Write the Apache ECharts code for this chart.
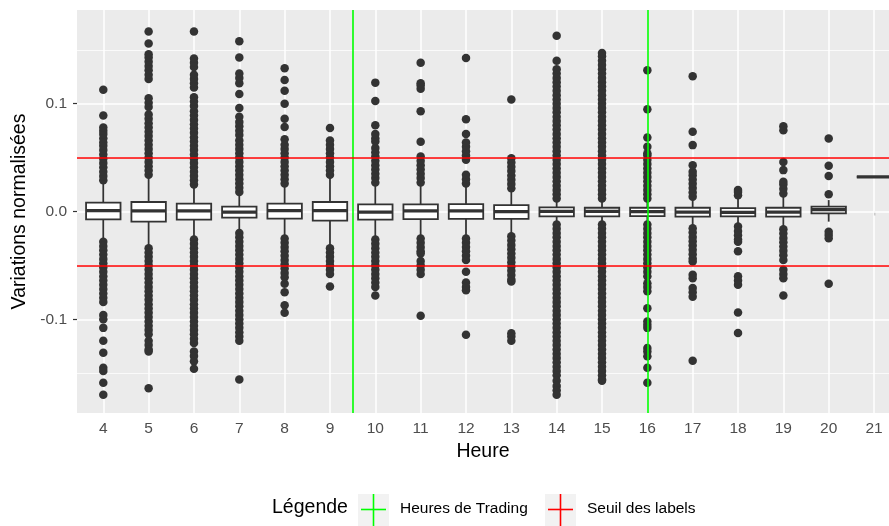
<!DOCTYPE html>
<html>
<head>
<meta charset="utf-8">
<script src="https://cdn.jsdelivr.net/npm/echarts@6/dist/echarts.min.js"></script>
<style>
html,body{margin:0;padding:0;background:#fff;}
#chart{width:889px;height:526px;}
</style>
</head>
<body>
<div id="chart"></div>
<script>
// ---- Data ----
const hours = [4,5,6,7,8,9,10,11,12,13,14,15,16,17,18,19,20,21];
const whiskLow  = [-0.027,-0.034,-0.0248,-0.0187,-0.0233,-0.0335,-0.0258,-0.0248,-0.0233,-0.0218,-0.011,-0.0116,-0.0116,-0.014,-0.0125,-0.0147,-0.0094,0.0322];
const q1        = [-0.0073,-0.0094,-0.0076,-0.0057,-0.0066,-0.0085,-0.0076,-0.007,-0.0069,-0.0069,-0.0045,-0.0045,-0.0042,-0.0048,-0.0045,-0.0048,-0.0017,0.0322];
const median    = [0.0008,0.0005,0.0005,-0.0005,0.0008,0.0008,-0.0005,0.0005,0.0005,-0.0002,0.0002,0.0002,-0.0002,-0.0005,-0.0008,-0.0005,0.0017,0.0322];
const q3        = [0.0082,0.0088,0.0073,0.0045,0.0073,0.0088,0.0066,0.0066,0.0069,0.006,0.0039,0.0035,0.0035,0.0035,0.0032,0.0035,0.0045,0.0322];
const whiskHigh = [0.0267,0.032,0.024,0.0174,0.0252,0.032,0.026,0.026,0.0255,0.020,0.0106,0.0106,0.0106,0.0122,0.0137,0.0137,0.0106,0.0322];

const outliers = [
  // 4
  [0.029,0.033,0.037,0.041,0.045,0.049,0.053,0.057,0.061,0.064,0.068,0.072,0.075,0.078,0.089,0.113,
   -0.028,-0.032,-0.036,-0.040,-0.044,-0.048,-0.052,-0.056,-0.060,-0.064,-0.068,-0.072,-0.076,-0.080,-0.084,-0.096,-0.100,-0.108,-0.120,-0.131,-0.145,-0.148,-0.159,-0.170],
  // 5
  [0.034,0.038,0.042,0.046,0.050,0.054,0.058,0.062,0.066,0.070,0.074,0.078,0.082,0.086,0.090,0.097,0.101,0.105,0.123,0.127,0.131,0.135,0.139,0.143,0.146,0.156,0.167,
   -0.034,-0.038,-0.042,-0.046,-0.050,-0.054,-0.058,-0.062,-0.066,-0.070,-0.074,-0.078,-0.082,-0.086,-0.090,-0.094,-0.098,-0.102,-0.106,-0.110,-0.114,-0.120,-0.124,-0.128,-0.130,-0.164],
  // 6
  [0.025,0.029,0.033,0.037,0.041,0.045,0.049,0.053,0.057,0.061,0.065,0.069,0.073,0.077,0.081,0.085,0.089,0.093,0.098,0.102,0.106,0.115,0.119,0.123,0.127,0.134,0.138,0.142,0.167,
   -0.026,-0.030,-0.034,-0.038,-0.042,-0.046,-0.050,-0.054,-0.058,-0.062,-0.066,-0.070,-0.074,-0.078,-0.082,-0.086,-0.090,-0.094,-0.098,-0.102,-0.106,-0.110,-0.114,-0.118,-0.122,-0.130,-0.134,-0.139,-0.146],
  // 7
  [0.018,0.022,0.026,0.030,0.034,0.038,0.042,0.046,0.050,0.054,0.058,0.062,0.066,0.071,0.075,0.079,0.083,0.088,0.096,0.109,0.119,0.124,0.128,0.143,0.158,
   -0.020,-0.024,-0.028,-0.032,-0.036,-0.040,-0.044,-0.048,-0.052,-0.056,-0.060,-0.064,-0.068,-0.072,-0.076,-0.080,-0.084,-0.088,-0.092,-0.096,-0.100,-0.104,-0.108,-0.112,-0.116,-0.120,-0.156],
  // 8
  [0.026,0.030,0.034,0.038,0.042,0.046,0.050,0.054,0.058,0.062,0.067,0.0785,0.086,0.100,0.112,0.122,0.133,
   -0.025,-0.029,-0.033,-0.037,-0.041,-0.045,-0.049,-0.053,-0.057,-0.061,-0.067,-0.075,-0.087,-0.094],
  // 9
  [0.034,0.038,0.042,0.046,0.050,0.054,0.058,0.062,0.066,0.0776,
   -0.034,-0.038,-0.042,-0.046,-0.050,-0.054,-0.058,-0.0696],
  // 10
  [0.027,0.031,0.035,0.039,0.043,0.047,0.051,0.055,0.059,0.065,0.068,0.072,0.080,0.1026,0.1196,
   -0.026,-0.030,-0.034,-0.038,-0.042,-0.046,-0.050,-0.054,-0.058,-0.062,-0.066,-0.070,-0.078],
  // 11
  [0.027,0.031,0.035,0.039,0.043,0.047,0.051,0.0647,0.093,0.114,0.117,0.119,0.138,
   -0.025,-0.029,-0.033,-0.037,-0.039,-0.046,-0.050,-0.054,-0.058,-0.0968],
  // 12
  [0.026,0.030,0.034,0.048,0.052,0.056,0.060,0.064,0.072,0.0857,0.1424,
   -0.025,-0.029,-0.033,-0.037,-0.041,-0.045,-0.056,-0.066,-0.070,-0.073,-0.1144],
  // 13
  [0.0215,0.0255,0.0295,0.0335,0.0375,0.0415,0.0455,0.0495,0.104,
   -0.023,-0.027,-0.031,-0.035,-0.039,-0.043,-0.047,-0.051,-0.055,-0.059,-0.063,-0.065,-0.113,-0.116,-0.120],
  // 14
  [0.012,0.016,0.020,0.024,0.028,0.032,0.036,0.040,0.044,0.048,0.052,0.056,0.060,0.064,0.068,0.072,0.076,0.080,0.084,0.088,0.092,0.096,0.100,0.104,0.108,0.112,0.116,0.120,0.124,0.128,0.132,0.140,0.163,
   -0.012,-0.016,-0.020,-0.024,-0.028,-0.032,-0.036,-0.040,-0.044,-0.048,-0.052,-0.056,-0.060,-0.064,-0.068,-0.072,-0.076,-0.080,-0.084,-0.088,-0.092,-0.096,-0.100,-0.104,-0.108,-0.112,-0.116,-0.120,-0.124,-0.128,-0.132,-0.136,-0.140,-0.144,-0.148,-0.152,-0.157,-0.162,-0.166,-0.170],
  // 15
  [0.012,0.016,0.020,0.024,0.028,0.032,0.036,0.040,0.044,0.048,0.052,0.056,0.060,0.064,0.068,0.072,0.076,0.080,0.084,0.088,0.092,0.096,0.100,0.104,0.108,0.112,0.116,0.120,0.124,0.128,0.132,0.136,0.140,0.144,0.147,
   -0.012,-0.016,-0.020,-0.024,-0.028,-0.032,-0.036,-0.040,-0.044,-0.048,-0.052,-0.056,-0.060,-0.064,-0.068,-0.072,-0.076,-0.080,-0.084,-0.088,-0.092,-0.096,-0.100,-0.104,-0.108,-0.112,-0.116,-0.120,-0.124,-0.128,-0.132,-0.136,-0.140,-0.144,-0.148,-0.152,-0.156,-0.157],
  // 16
  [0.012,0.016,0.020,0.024,0.028,0.032,0.036,0.040,0.044,0.048,0.052,0.054,0.060,0.0687,0.095,0.131,
   -0.012,-0.016,-0.020,-0.024,-0.028,-0.032,-0.036,-0.040,-0.044,-0.048,-0.052,-0.056,-0.060,-0.0665,-0.070,-0.074,-0.0897,-0.102,-0.105,-0.108,-0.1267,-0.130,-0.1344,-0.145,-0.159],
  // 17
  [0.0137,0.0177,0.0217,0.0257,0.0297,0.0337,0.037,0.043,0.0616,0.074,0.1255,
   -0.0156,-0.0196,-0.0236,-0.0276,-0.0316,-0.0356,-0.0396,-0.0436,-0.0464,-0.0588,-0.062,-0.071,-0.075,-0.079,-0.1384],
  // 18
  [0.015,0.018,0.020,
   -0.014,-0.018,-0.022,-0.026,-0.028,-0.037,-0.060,-0.064,-0.068,-0.0937,-0.1128],
  // 19
  [0.0168,0.021,0.025,0.0276,0.0384,0.046,0.0755,0.079,
   -0.0165,-0.0205,-0.0245,-0.0285,-0.0325,-0.0365,-0.0405,-0.045,-0.054,-0.058,-0.062,-0.078],
  // 20
  [0.0159,0.0329,0.0424,0.0677,
   -0.0187,-0.0217,-0.0248,-0.067],
  // 21
  []
];

const tradingHours = [9.5, 16];        // green vertical lines
const labelThresholds = [-0.05, 0.05]; // red horizontal lines
const yTickLabels = [-0.1, 0, 0.1];
const yMinorGrid = [-0.15, -0.05, 0.05, 0.15];

// ---- Build options ----
const FONT = "'Liberation Sans', Arial, Helvetica, sans-serif";
const BOX_WIDTH = 0.76;
const boxData = hours.map((h, i) => [h, whiskLow[i], q1[i], median[i], q3[i], whiskHigh[i]]);
const outData = [];
hours.forEach((h, i) => outliers[i].forEach(v => outData.push([h, v])));

function renderBox(params, api) {
  const x = api.value(0);
  const pLow = api.coord([x, api.value(1)]);
  const pQ1 = api.coord([x, api.value(2)]);
  const pMed = api.coord([x, api.value(3)]);
  const pQ3 = api.coord([x, api.value(4)]);
  const pHigh = api.coord([x, api.value(5)]);
  const halfW = api.size([BOX_WIDTH, 0])[0] / 2;
  const cx = pMed[0];
  const stroke = '#333333';
  return {
    type: 'group',
    children: [
      { type: 'line', shape: { x1: cx, y1: pHigh[1], x2: cx, y2: pQ3[1] }, style: { stroke, lineWidth: 1.8 } },
      { type: 'line', shape: { x1: cx, y1: pQ1[1], x2: cx, y2: pLow[1] }, style: { stroke, lineWidth: 1.8 } },
      { type: 'rect', shape: { x: cx - halfW, y: pQ3[1], width: 2 * halfW, height: pQ1[1] - pQ3[1] },
        style: { fill: '#FFFFFF', stroke, lineWidth: 1.8 } },
      { type: 'line', shape: { x1: cx - halfW, y1: pMed[1], x2: cx + halfW, y2: pMed[1] }, style: { stroke, lineWidth: 3.2 } }
    ]
  };
}

const gridMajor = { color: '#FFFFFF', width: 1.5, type: 'solid' };
const gridMinor = { color: '#FFFFFF', width: 0.75, type: 'solid' };

const option = {
  animation: false,
  backgroundColor: '#FFFFFF',
  grid: {
    left: 77, right: 0, top: 10, bottom: 113,
    show: true, backgroundColor: '#EBEBEB', borderWidth: 0
  },
  xAxis: {
    type: 'value', min: 3.42, max: 21.33,
    name: 'Heure', nameLocation: 'middle', nameGap: 27,
    nameTextStyle: { fontFamily: FONT, fontSize: 19.5, color: '#000000' },
    axisLine: { show: false },
    axisTick: { show: true, length: 4, customValues: hours, lineStyle: { color: '#333333', width: 1.2 } },
    axisLabel: { customValues: hours, margin: 8, fontFamily: FONT, fontSize: 15.5, color: '#4D4D4D',
                 formatter: v => String(v) },
    splitLine: { show: false }
  },
  yAxis: {
    type: 'value', min: -0.187, max: 0.187,
    name: 'Variations normalisées', nameLocation: 'middle', nameRotate: 90, nameGap: 44,
    nameTextStyle: { fontFamily: FONT, fontSize: 19.5, color: '#000000' },
    axisLine: { show: false },
    axisTick: { show: true, length: 4, customValues: yTickLabels, lineStyle: { color: '#333333', width: 1.2 } },
    axisLabel: { customValues: yTickLabels, margin: 10, fontFamily: FONT, fontSize: 15.5, color: '#4D4D4D',
                 formatter: v => v.toFixed(1) },
    splitLine: { show: false }
  },
  series: [
    {
      name: 'grid', type: 'line', data: [], z: 1, silent: true,
      markLine: {
        z: 1, silent: true, symbol: 'none', label: { show: false }, animation: false,
        data: [
          ...yMinorGrid.map(v => ({ yAxis: v, lineStyle: gridMinor })),
          ...yTickLabels.map(v => ({ yAxis: v, lineStyle: gridMajor })),
          ...hours.map(v => ({ xAxis: v, lineStyle: gridMajor }))
        ]
      }
    },
    {
      name: 'box', type: 'custom', z: 3, renderItem: renderBox,
      encode: { x: 0, y: [1, 2, 3, 4, 5] },
      data: boxData
    },
    {
      name: 'outliers', type: 'scatter', z: 4, symbol: 'circle', symbolSize: 8.5,
      itemStyle: { color: '#333333', opacity: 1 },
      data: outData
    },
    {
      name: 'Heures de Trading', type: 'line', data: [], z: 10, silent: true,
      markLine: {
        z: 10, silent: true, symbol: 'none', label: { show: false }, animation: false,
        lineStyle: { color: '#00FF00', width: 1.6, type: 'solid' },
        data: tradingHours.map(v => ({ xAxis: v }))
      }
    },
    {
      name: 'Seuil des labels', type: 'line', data: [], z: 10, silent: true,
      markLine: {
        z: 10, silent: true, symbol: 'none', label: { show: false }, animation: false,
        lineStyle: { color: '#FF0000', width: 1.6, type: 'solid' },
        data: labelThresholds.map(v => ({ yAxis: v }))
      }
    }
  ],
  graphic: [
    { type: 'text', left: 272, top: 498, style: { text: 'Légende', fontFamily: FONT, fontSize: 19.5, fill: '#000000' } },
    { type: 'rect', shape: { x: 358, y: 494, width: 31, height: 32 }, style: { fill: '#F2F2F2' } },
    { type: 'line', shape: { x1: 373.5, y1: 494, x2: 373.5, y2: 526 }, style: { stroke: '#00FF00', lineWidth: 1.6 } },
    { type: 'line', shape: { x1: 361, y1: 509.5, x2: 386, y2: 509.5 }, style: { stroke: '#00FF00', lineWidth: 1.6 } },
    { type: 'text', left: 400, top: 501, style: { text: 'Heures de Trading', fontFamily: FONT, fontSize: 15.5, fill: '#000000' } },
    { type: 'rect', shape: { x: 545, y: 494, width: 31, height: 32 }, style: { fill: '#F2F2F2' } },
    { type: 'line', shape: { x1: 560.5, y1: 494, x2: 560.5, y2: 526 }, style: { stroke: '#FF0000', lineWidth: 1.6 } },
    { type: 'line', shape: { x1: 548, y1: 509.5, x2: 573, y2: 509.5 }, style: { stroke: '#FF0000', lineWidth: 1.6 } },
    { type: 'text', left: 587, top: 501, style: { text: 'Seuil des labels', fontFamily: FONT, fontSize: 15.5, fill: '#000000' } }
  ]
};

const chart = echarts.init(document.getElementById('chart'), null, { renderer: 'canvas' });
chart.setOption(option);
</script>
</body>
</html>
